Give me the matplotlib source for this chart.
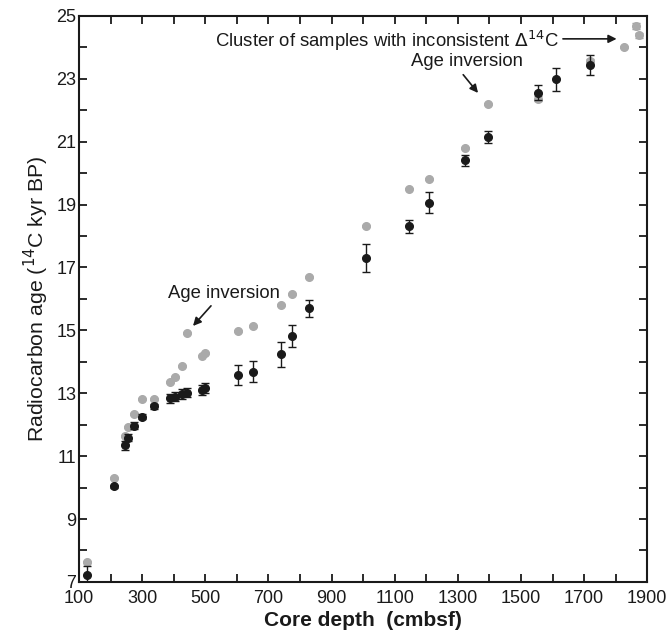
import matplotlib
matplotlib.use('Agg')
import matplotlib.pyplot as plt
from matplotlib.ticker import MultipleLocator

plt.rcParams['font.family'] = ['Liberation Sans', 'DejaVu Sans']

# raw ages (grey) - depth in cmbsf, age in 14C kyr BP
gray_depth = [124, 212, 247, 256, 274, 300, 337, 389, 405, 425, 443, 490, 498,
              604, 652, 739, 774, 829, 1009, 1146, 1209, 1322, 1395, 1553,
              1718, 1827, 1864, 1873]
gray_age = [7.64, 10.30, 11.65, 11.93, 12.34, 12.82, 12.82, 13.37, 13.53, 13.88,
            14.93, 14.20, 14.29, 14.97, 15.14, 15.82, 16.15, 16.70, 18.32, 19.51,
            19.80, 20.81, 22.21, 22.36, 23.57, 24.01, 24.69, 24.39]
gray_err = [0.03, 0.03, 0.03, 0.03, 0.03, 0.03, 0.03, 0.03, 0.03, 0.03,
            0.03, 0.03, 0.03, 0.03, 0.03, 0.03, 0.03, 0.03, 0.03, 0.03,
            0.03, 0.03, 0.03, 0.08, 0.05, 0.03, 0.10, 0.08]

# corrected ages (black)
black_depth = [124, 212, 247, 256, 274, 300, 337, 389, 405, 425, 443, 490, 498,
               604, 652, 739, 774, 829, 1009, 1146, 1209, 1322, 1395, 1553,
               1612, 1718]
black_age = [7.22, 10.04, 11.34, 11.59, 11.97, 12.26, 12.58, 12.84, 12.89, 12.98,
             13.02, 13.11, 13.17, 13.57, 13.68, 14.24, 14.81, 15.70, 17.31, 18.31,
             19.06, 20.41, 21.15, 22.56, 22.98, 23.44]
black_err = [0.28, 0.05, 0.14, 0.12, 0.12, 0.08, 0.08, 0.15, 0.14, 0.15,
             0.15, 0.15, 0.17, 0.32, 0.33, 0.39, 0.35, 0.26, 0.45, 0.20,
             0.33, 0.18, 0.18, 0.25, 0.36, 0.31]

fig = plt.figure(figsize=(6.7, 6.36), dpi=100)
ax = fig.add_axes([0.118, 0.085, 0.848, 0.890])

ax.errorbar(gray_depth, gray_age, yerr=gray_err, fmt='o', color='#aaaaaa',
            mec='#aaaaaa', ecolor='#999999', markersize=5.5, elinewidth=1.0,
            capsize=3, capthick=1.0, zorder=2)
ax.errorbar(black_depth, black_age, yerr=black_err, fmt='o', color='#1a1a1a',
            mec='#1a1a1a', ecolor='#1a1a1a', markersize=5.5, elinewidth=1.0,
            capsize=3, capthick=1.0, zorder=3)

ax.set_xlim(100, 1900)
ax.set_ylim(7, 25)
ax.set_xticks(range(100, 1901, 200))
ax.xaxis.set_minor_locator(MultipleLocator(100))
ax.set_yticks(range(7, 26, 2))
ax.yaxis.set_minor_locator(MultipleLocator(1))
ax.tick_params(which='both', direction='in', top=True, right=True,
               length=6, width=1.3, labelsize=13, pad=2, color='#1a1a1a',
               labelcolor='#1a1a1a')
ax.tick_params(axis='x', pad=6)
for s in ax.spines.values():
    s.set_linewidth(1.5)
    s.set_color('#1a1a1a')

ax.set_xlabel('Core depth  (cmbsf)', fontsize=15, fontweight='bold',
              color='#1a1a1a', labelpad=3)
ax.set_ylabel('Radiocarbon age ($^{14}$C kyr BP)', fontsize=15.3,
              color='#1a1a1a', labelpad=4)

arrow = dict(arrowstyle='-|>', color='#1a1a1a', lw=1.2, mutation_scale=12,
             shrinkA=0, shrinkB=0)
ax.text(1621, 24.2, 'Cluster of samples with inconsistent $\\Delta^{14}$C',
        ha='right', va='center', fontsize=13.3, color='#1a1a1a')
ax.annotate('', xy=(1803, 24.27), xytext=(1633, 24.27), arrowprops=arrow)
ax.text(1329, 23.54, 'Age inversion', ha='center', va='center', fontsize=13.3,
        color='#1a1a1a')
ax.annotate('', xy=(1364, 22.55), xytext=(1317, 23.13), arrowprops=arrow)
ax.text(558, 16.17, 'Age inversion', ha='center', va='center', fontsize=13.3,
        color='#1a1a1a')
ax.annotate('', xy=(461, 15.14), xytext=(518, 15.78), arrowprops=arrow)

fig.savefig('out.png', dpi=100)
